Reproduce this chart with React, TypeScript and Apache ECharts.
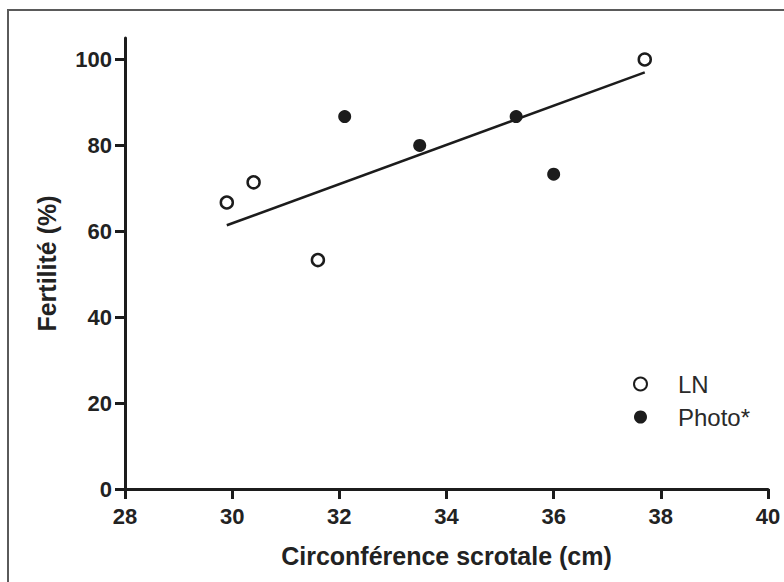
import React, { useEffect, useRef } from "react";
import * as echarts from "echarts";

const lnData: [number, number][] = [
  [29.9, 66.7],
  [30.4, 71.4],
  [31.6, 53.3],
  [37.7, 100],
];
const photoData: [number, number][] = [
  [32.1, 86.7],
  [33.5, 80],
  [35.3, 86.7],
  [36.0, 73.3],
];
const fitLine: [number, number][] = [
  [29.9, 61.4],
  [37.7, 97.0],
];
const yTicks = [0, 20, 40, 60, 80, 100];
const seriesNames = ["LN", "Photo*"];

const INK = "#1c1c1c";

export default function App() {
  const ref = useRef<HTMLDivElement>(null);
  useEffect(() => {
    if (!ref.current) return;
    const chart = echarts.init(ref.current, undefined, { renderer: "svg" });
    chart.setOption({
      animation: false,
      backgroundColor: "#fff",
      graphic: [
        {
          type: "rect",
          shape: { x: 8, y: 10, width: 800, height: 620 },
          style: { fill: "none", stroke: "#5a5a5a", lineWidth: 2 },
          silent: true,
          z: -1,
        },
      ],
      grid: { left: 125, right: 16, top: 38, bottom: 93 },
      legend: {
        orient: "vertical",
        left: 628,
        top: 367,
        itemWidth: 13,
        itemHeight: 13,
        itemGap: 9,
        data: seriesNames,
        textStyle: {
          fontFamily: "Liberation Sans, Arial, sans-serif",
          fontSize: 24,
          color: "#2a2a2a",
          padding: [0, 0, 0, 26],
        },
      },
      xAxis: {
        type: "value",
        min: 28,
        max: 40,
        interval: 2,
        name: "Circonférence scrotale (cm)",
        nameLocation: "middle",
        nameGap: 54,
        nameTextStyle: {
          fontFamily: "Liberation Sans, Arial, sans-serif",
          fontSize: 25,
          fontWeight: "bold",
          color: "#222",
        },
        axisLine: { lineStyle: { color: INK, width: 3 } },
        axisTick: { length: 10, lineStyle: { color: INK, width: 3 } },
        axisLabel: {
          margin: 16,
          fontFamily: "Liberation Sans, Arial, sans-serif",
          fontSize: 22,
          fontWeight: "bold",
          color: "#222",
        },
        splitLine: { show: false },
      },
      yAxis: {
        type: "value",
        min: 0,
        max: 105,
        interval: 20,
        name: "Fertilité (%)",
        nameLocation: "middle",
        nameGap: 66,
        nameTextStyle: {
          fontFamily: "Liberation Sans, Arial, sans-serif",
          fontSize: 25,
          fontWeight: "bold",
          color: "#222",
        },
        axisLine: { show: true, lineStyle: { color: INK, width: 3 } },
        axisTick: {
          show: true,
          length: 10,
          lineStyle: { color: INK, width: 3 },
          customValues: yTicks,
        },
        axisLabel: {
          margin: 13,
          fontFamily: "Liberation Sans, Arial, sans-serif",
          fontSize: 22,
          fontWeight: "bold",
          color: "#222",
          customValues: yTicks,
        },
        splitLine: { show: false },
      },
      series: [
        {
          name: "fit",
          type: "line",
          data: fitLine,
          symbol: "none",
          lineStyle: { color: INK, width: 2.5 },
          z: 1,
        },
        {
          name: seriesNames[0],
          type: "scatter",
          data: lnData,
          symbol: "circle",
          symbolSize: 12,
          itemStyle: { color: "#fff", borderColor: INK, borderWidth: 2.5, opacity: 1 },
          z: 3,
        },
        {
          name: seriesNames[1],
          type: "scatter",
          data: photoData,
          symbol: "circle",
          symbolSize: 13,
          itemStyle: { color: INK, opacity: 1 },
          z: 3,
        },
      ],
    });
    return () => chart.dispose();
  }, []);
  return (
    <div
      ref={ref}
      style={{ position: "fixed", left: 0, top: 0, width: 784, height: 582 }}
    />
  );
}
